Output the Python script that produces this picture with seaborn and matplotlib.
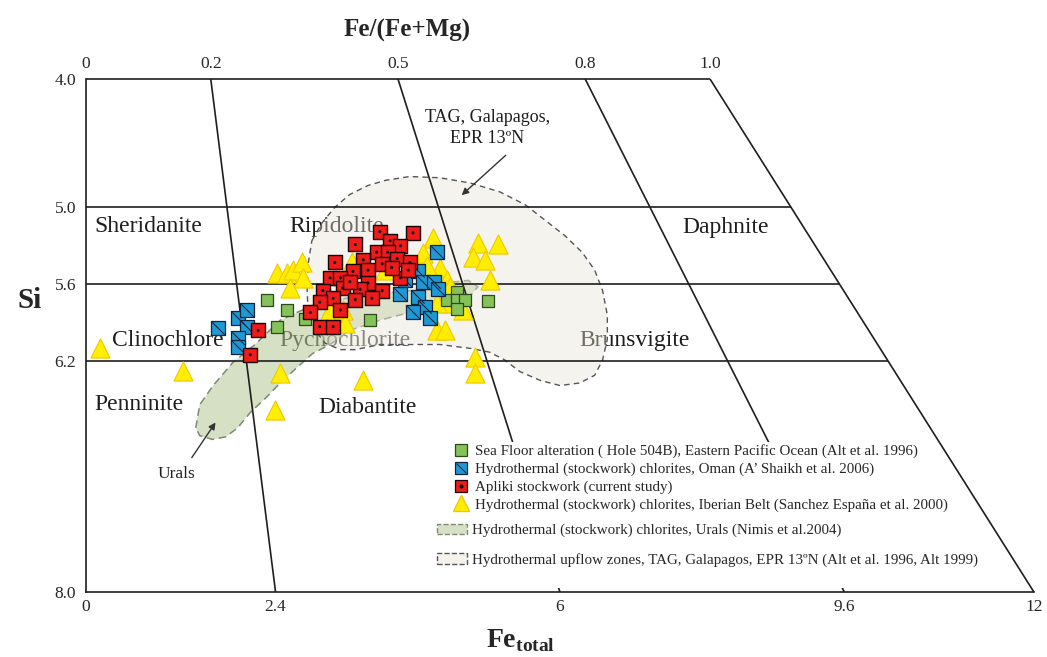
import matplotlib
matplotlib.use("Agg")
import matplotlib.pyplot as plt
import matplotlib.patches as mpatches
from matplotlib.lines import Line2D
from matplotlib.path import Path
import seaborn as sns

sea_floor_fe = [2.29, 2.54, 2.42, 2.77, 3.60, 4.57, 4.70, 4.70, 4.80, 4.70, 5.09]
sea_floor_si = [5.72, 5.80, 5.93, 5.87, 5.88, 5.72, 5.66, 5.72, 5.72, 5.79, 5.73]

oman_fe = [1.67, 1.92, 2.04, 2.04, 1.92, 1.92, 4.44, 3.98, 4.04, 4.20, 4.27,
           4.41, 4.46, 4.20, 4.29, 4.14, 4.35]
oman_si = [5.94, 5.86, 5.80, 5.93, 6.02, 6.09, 5.35, 5.68, 5.57, 5.50, 5.58,
           5.58, 5.64, 5.70, 5.78, 5.82, 5.86]

apliki_fe = [3.72, 4.14, 3.85, 3.98, 3.41, 3.68, 3.82, 3.94, 4.10, 3.51, 3.15,
             3.38, 3.57, 3.75, 3.98, 4.08, 3.09, 3.22, 3.57, 3.25, 3.47, 3.75,
             3.00, 3.13, 3.62, 2.96, 3.22, 2.84, 2.96, 3.13, 2.18, 2.08, 3.34,
             3.41, 3.87]
apliki_si = [5.19, 5.20, 5.26, 5.30, 5.29, 5.35, 5.35, 5.40, 5.43, 5.41, 5.43,
             5.50, 5.49, 5.44, 5.55, 5.49, 5.55, 5.55, 5.59, 5.63, 5.64, 5.65,
             5.65, 5.71, 5.71, 5.74, 5.80, 5.82, 5.93, 5.93, 5.96, 6.15, 5.58,
             5.72, 5.47]

iberian_fe = [0.18, 1.23, 2.46, 2.39, 3.51, 2.42, 2.54, 2.62, 2.73, 2.75, 2.58,
              3.09, 3.25, 3.79, 4.39, 4.27, 4.48, 4.32, 4.57, 4.61, 4.61, 4.77,
              4.44, 4.54, 4.92, 4.92, 4.96, 5.22, 4.90, 5.05, 5.11, 3.37, 3.28,
              4.44]
iberian_si = [6.10, 6.28, 6.29, 6.58, 6.35, 5.51, 5.51, 5.49, 5.43, 5.55, 5.63,
              5.80, 5.80, 5.49, 5.24, 5.36, 5.47, 5.46, 5.57, 5.62, 5.75, 5.80,
              5.96, 5.96, 6.17, 6.29, 5.28, 5.29, 5.39, 5.41, 5.57, 5.43, 5.90,
              5.75]

# field outlines
urals_fe = [1.39, 1.44, 1.61, 1.86, 2.14, 2.46, 2.92, 3.47, 4.10, 4.54, 4.84,
            4.96, 4.84, 4.48, 4.10, 3.72, 3.34, 3.09, 2.87, 2.67, 2.46, 2.27,
            2.08, 1.92, 1.77, 1.60, 1.44]
urals_si = [6.72, 6.54, 6.39, 6.21, 6.07, 5.88, 5.75, 5.69, 5.65, 5.59, 5.57,
            5.62, 5.71, 5.76, 5.82, 5.88, 5.96, 6.07, 6.14, 6.25, 6.37, 6.49,
            6.60, 6.72, 6.79, 6.81, 6.78]

upflow_fe = [2.86, 2.99, 3.15, 3.34, 3.57, 3.79, 4.10, 4.48, 4.86, 5.24, 5.56,
             5.81, 6.06, 6.28, 6.44, 6.54, 6.60, 6.60, 6.54, 6.44, 6.25, 6.00,
             5.75, 5.49, 5.30, 5.11, 4.86, 4.48, 4.10, 3.72, 3.41, 3.22, 3.03,
             2.90, 2.81, 2.80, 2.81]
upflow_si = [5.26, 5.12, 5.00, 4.90, 4.83, 4.79, 4.76, 4.77, 4.81, 4.88, 4.98,
             5.10, 5.22, 5.35, 5.49, 5.65, 5.84, 6.03, 6.19, 6.31, 6.37, 6.39,
             6.35, 6.28, 6.19, 6.13, 6.10, 6.07, 6.07, 6.07, 6.11, 6.11, 6.06,
             5.96, 5.80, 5.65, 5.45]

si_ticks = [4.0, 5.0, 5.6, 6.2, 8.0]
si_bounds = [5.0, 5.6, 6.2]
fe_ticks = [0, 2.4, 6, 9.6, 12]
fe_tick_labels = ["0", "2.4", "6", "9.6", "12"]
ratio_ticks = [0, 0.2, 0.5, 0.8, 1.0]
ratio_tick_labels = ["0", "0.2", "0.5", "0.8", "1.0"]
ratio_bounds = [0.2, 0.5, 0.8, 1.0]
top_total, base_total = 7.9, 12.0   # Fe+Mg at Si = 4 and Si = 8


def fe_at(ratio, si):
    return ratio * (top_total + (si - 4.0) / 4.0 * (base_total - top_total))


sns.set_style("white")
plt.rcParams["font.family"] = ["Liberation Serif", "DejaVu Serif"]
plt.rcParams["mathtext.fontset"] = "custom"
plt.rcParams["mathtext.rm"] = "Liberation Serif"
plt.rcParams["mathtext.bf"] = "Liberation Serif:bold"

fig = plt.figure(figsize=(10.47, 6.57), dpi=100)
ax = fig.add_axes([0.0821, 0.0989, 0.9054, 0.7808])
ax.set_xlim(0, 12)
ax.set_ylim(8.0, 4.0)

line_kw = dict(color="#1e1e1e", lw=1.2, solid_capstyle="butt")

# frame
for side in ["top", "right"]:
    ax.spines[side].set_visible(False)
for side in ["left", "bottom"]:
    ax.spines[side].set_color("#1e1e1e")
    ax.spines[side].set_linewidth(1.2)
ax.plot([0, top_total], [4.0, 4.0], clip_on=False, zorder=3, **line_kw)

# classification boundaries
for si in si_bounds:
    ax.plot([0, fe_at(1.0, si)], [si, si], zorder=3, **line_kw)
for r in ratio_bounds:
    ax.plot([fe_at(r, 4.0), fe_at(r, 8.0)], [4.0, 8.0], clip_on=False,
            zorder=6 if r == 1.0 else 3, **line_kw)

# field names
names = [("Sheridanite", 0.11, 5.15, "#1e1e1e"), ("Ripidolite", 2.57, 5.15, "#1e1e1e"),
         ("Daphnite", 7.55, 5.16, "#1e1e1e"), ("Clinochlore", 0.33, 6.04, "#1e1e1e"),
         ("Pycnochlorite", 2.45, 6.04, "#4a4a4a"), ("Brunsvigite", 6.25, 6.04, "#1e1e1e"),
         ("Penninite", 0.11, 6.54, "#1e1e1e"), ("Diabantite", 2.94, 6.56, "#1e1e1e")]
for txt, fx, sy, col in names:
    ax.text(fx, sy, txt, fontsize=17, color=col, ha="left", va="center", zorder=1)

# Urals and upflow fields (translucent, laid over the field names)
ax.add_patch(mpatches.Polygon(list(zip(urals_fe, urals_si)), closed=True,
                              facecolor="#a4bb7c", alpha=0.45, edgecolor="none", zorder=2))
ax.add_patch(mpatches.Polygon(list(zip(urals_fe, urals_si)), closed=True, fill=False,
                              edgecolor="#7d8a74", lw=1.1, ls=(0, (5, 3)), zorder=2))
ax.add_patch(mpatches.Polygon(list(zip(upflow_fe, upflow_si)), closed=True,
                              facecolor="#e7e3d2", alpha=0.4, edgecolor="none", zorder=2))
ax.add_patch(mpatches.Polygon(list(zip(upflow_fe, upflow_si)), closed=True, fill=False,
                              edgecolor="#555555", lw=1.0, ls=(0, (4, 3)), zorder=2))

# samples
yellow, yellow_edge = "#ffee00", "#f0c800"
green, blue, red = "#86c25a", "#1d9ad6", "#ee1b1b"
diag = Path([(-0.5, 0.5), (0.5, -0.5)], [Path.MOVETO, Path.LINETO])

sns.scatterplot(x=iberian_fe, y=iberian_si, marker="^", s=190, color=yellow,
                edgecolor=yellow_edge, linewidth=0.8, ax=ax, zorder=4, legend=False)
sns.scatterplot(x=sea_floor_fe, y=sea_floor_si, marker="s", s=80, color=green,
                edgecolor="#2e4a1c", linewidth=0.9, ax=ax, zorder=5, legend=False)
sns.scatterplot(x=oman_fe, y=oman_si, marker="s", s=90, color=blue,
                edgecolor="#10243c", linewidth=0.9, ax=ax, zorder=5, legend=False)
sns.scatterplot(x=oman_fe, y=oman_si, marker=diag, s=80, color="#10243c",
                edgecolor="#10243c", linewidth=0.8, ax=ax, zorder=5, legend=False)
sns.scatterplot(x=apliki_fe, y=apliki_si, marker="s", s=115, color=red,
                edgecolor="#1a0000", linewidth=1.0, ax=ax, zorder=5, legend=False)
sns.scatterplot(x=apliki_fe, y=apliki_si, marker="o", s=5, color="#111111",
                edgecolor="none", ax=ax, zorder=5, legend=False)

# annotations
ax.annotate("", xy=(4.73, 4.92), xytext=(5.34, 4.58),
            arrowprops=dict(arrowstyle="-|>", color="#333333", lw=1.0), zorder=3)
ax.text(5.08, 4.38, "TAG, Galapagos,\nEPR 13\u00baN", fontsize=13, ha="center",
        va="center", linespacing=1.3, color="#1e1e1e")
ax.annotate("", xy=(1.66, 6.66), xytext=(1.32, 6.97),
            arrowprops=dict(arrowstyle="-|>", color="#333333", lw=1.0), zorder=3)
ax.text(1.15, 7.08, "Urals", fontsize=12.5, ha="center", va="center", color="#1e1e1e")

# ticks
ax.set_yticks(si_ticks)
ax.set_yticklabels([f"{v:.1f}" for v in si_ticks])
ax.set_xticks(fe_ticks)
ax.set_xticklabels(fe_tick_labels)
ax.tick_params(axis="y", direction="out", length=4, width=1.2, pad=3,
               labelsize=12.5, color="#1e1e1e")
ax.tick_params(axis="x", length=0, pad=5, labelsize=12.5)
top = ax.secondary_xaxis("top")
top.set_xticks([r * top_total for r in ratio_ticks])
top.set_xticklabels(ratio_tick_labels)
top.tick_params(length=0, pad=5, labelsize=12.5)
top.spines["top"].set_visible(False)

fig.text(407 / 1047, 1 - 30 / 657, "Fe/(Fe+Mg)", fontsize=18, fontweight="bold",
         ha="center", va="center")
fig.text(30 / 1047, 1 - 300 / 657, "Si", fontsize=21, fontweight="bold",
         ha="center", va="center")
fig.text(521 / 1047, 1 - 641 / 657, r"$\mathbf{Fe}_{\mathbf{total}}$", fontsize=20,
         ha="center", va="center")

# legend (white panel hides the boundary lines behind it)
ax.add_patch(mpatches.Rectangle((0.372, 0.008), 0.49, 0.285, transform=ax.transAxes,
                                facecolor="white", edgecolor="none", zorder=4.5))
pt_handles = [
    Line2D([], [], ls="", marker="s", markersize=8, markerfacecolor=green,
           markeredgecolor="#2e4a1c", markeredgewidth=0.9),
    (Line2D([], [], ls="", marker="s", markersize=8, markerfacecolor=blue,
            markeredgecolor="#10243c", markeredgewidth=0.9),
     Line2D([], [], ls="", marker=diag, markersize=7, color="#10243c", markeredgewidth=0.8)),
    (Line2D([], [], ls="", marker="s", markersize=8, markerfacecolor=red,
            markeredgecolor="#1a0000", markeredgewidth=0.9),
     Line2D([], [], ls="", marker="o", markersize=2, color="#111111")),
    Line2D([], [], ls="", marker="^", markersize=12, markerfacecolor=yellow,
           markeredgecolor=yellow_edge),
]
pt_labels = [
    "Sea Floor alteration ( Hole 504B), Eastern Pacific Ocean (Alt et al. 1996)",
    "Hydrothermal (stockwork) chlorites, Oman (A\u2019 Shaikh et al. 2006)",
    "Apliki stockwork (current study)",
    "Hydrothermal (stockwork) chlorites, Iberian Belt (Sanchez Espa\u00f1a et al. 2000)",
]
leg1 = ax.legend(pt_handles, pt_labels, loc="upper left", bbox_to_anchor=(0.388, 0.2875),
                 frameon=False, fontsize=10.8, handlelength=1.0, handletextpad=0.4,
                 labelspacing=0.27, borderpad=0, borderaxespad=0)
leg1.set_zorder(7)
ax.add_artist(leg1)

area_handles = [
    mpatches.Patch(facecolor="#d6e0c4", edgecolor="#7d8a74", ls="--", lw=1.0),
    mpatches.Patch(facecolor="#f4f2ea", edgecolor="#555555", ls="--", lw=1.0),
]
area_labels = [
    "Hydrothermal (stockwork) chlorites, Urals (Nimis et al.2004)",
    "Hydrothermal upflow zones, TAG, Galapagos, EPR 13\u00baN (Alt et al. 1996, Alt 1999)",
]
leg2 = ax.legend(area_handles, area_labels, loc="upper left", bbox_to_anchor=(0.3708, 0.1335),
                 frameon=False, fontsize=10.8, handlelength=2.0, handleheight=0.7,
                 handletextpad=0.3, labelspacing=1.05, borderpad=0, borderaxespad=0)
leg2.set_zorder(7)

fig.savefig("out.png", dpi=100)
